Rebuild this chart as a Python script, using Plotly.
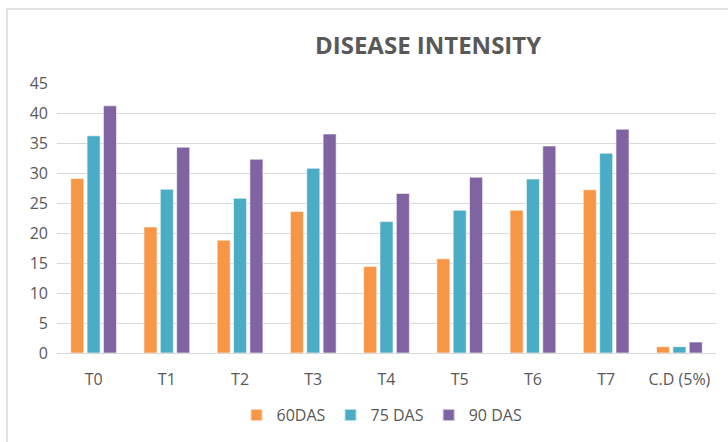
import plotly.graph_objects as go

categories = ["T0", "T1", "T2", "T3", "T4", "T5", "T6", "T7", "C.D (5%)"]
das60 = [29.1, 21.0, 18.8, 23.6, 14.4, 15.7, 23.8, 27.2, 1.05]
das75 = [36.2, 27.3, 25.8, 30.8, 21.9, 23.8, 29.0, 33.3, 1.05]
das90 = [41.2, 34.3, 32.3, 36.5, 26.6, 29.3, 34.5, 37.3, 1.83]
series_names = ["60DAS", "75 DAS", "90 DAS"]
colors = ["#F79646", "#4BACC6", "#8064A2"]
y_ticks = [0, 5, 10, 15, 20, 25, 30, 35, 40, 45]

W, H = 728, 442
ml, mr, mt, mb = 57, 12, 83, 89
PH = H - mt - mb
PW = W - ml - mr

fig = go.Figure()
for name, vals, col in zip(series_names, [das60, das75, das90], colors):
    fig.add_trace(go.Bar(
        x=categories, y=vals, name=name,
        marker=dict(color=col, line=dict(color="rgba(255,255,255,0.6)", width=1)),
    ))

font_family = "Open Sans, Noto Sans, Liberation Sans, sans-serif"
fig.update_layout(
    width=W, height=H,
    margin=dict(l=ml, r=mr, t=mt, b=mb, autoexpand=False),
    paper_bgcolor="white", plot_bgcolor="white",
    barmode="group", bargap=0.33, bargroupgap=0.2,
    font=dict(family=font_family, color="#595959", size=14),
    showlegend=True,
    legend=dict(orientation="h", x=(382 - ml) / PW, xanchor="center",
                y=-(415 - (H - mb)) / PH, yanchor="middle",
                font=dict(size=16, color="#595959"), itemsizing="constant",
                traceorder="normal", itemwidth=30),
    xaxis=dict(showgrid=False, showline=True, linecolor="#D9D9D9", linewidth=1,
               ticks="", tickfont=dict(size=16, color="#595959"),
               ticklabelstandoff=12),
    yaxis=dict(range=[0, 45], tickvals=y_ticks, showgrid=True, gridcolor="#D9D9D9",
               gridwidth=1, zeroline=False, ticks="", showline=False,
               tickfont=dict(size=16, color="#595959"), ticklabelstandoff=8),
)

# Title
fig.add_annotation(
    text="<b>DISEASE INTENSITY</b>", xref="paper", yref="paper",
    x=(428 - ml) / PW, y=1 + (83 - 45) / PH,
    xanchor="center", yanchor="middle", showarrow=False,
    font=dict(size=24, color="#595959", family=font_family),
)

# Chart border
fig.add_shape(type="rect", xref="paper", yref="paper",
              x0=(7 - ml) / PW, x1=(740 - ml) / PW,
              y0=(H - mb - 460) / PH, y1=(H - mb - 9) / PH,
              line=dict(color="#D9D9D9", width=1.5), layer="below")

fig.write_html("out.html",
               config={"displayModeBar": False},
               post_script="document.body.style.margin='0';document.body.style.overflow='hidden';")
